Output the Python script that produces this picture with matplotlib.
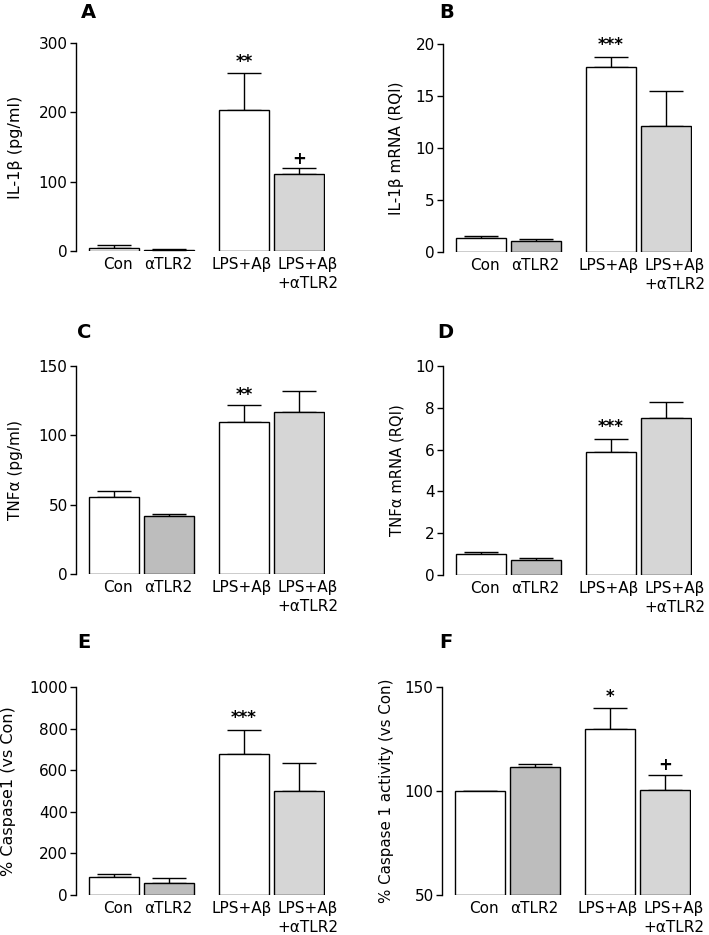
import matplotlib
matplotlib.use("Agg")
import matplotlib.pyplot as plt

plt.rcParams['font.family'] = ['DejaVu Sans']

categories = ["Con", "\u03b1TLR2", "LPS+A\u03b2", "LPS+A\u03b2\n+\u03b1TLR2"]
bar_colors = ["white", "#bdbdbd", "white", "#d6d6d6"]

# Panel A: IL-1beta (pg/ml)
il1b_pg_mean = [4, 2, 203, 111]
il1b_pg_err = [4, 1, 54, 9]
il1b_pg_sig = ["", "", "**", "+"]

# Panel B: IL-1beta mRNA (RQI)
il1b_mrna_mean = [1.3, 1.1, 17.8, 12.15]
il1b_mrna_err = [0.27, 0.15, 0.95, 3.3]
il1b_mrna_sig = ["", "", "***", ""]

# Panel C: TNFalpha (pg/ml)
tnf_pg_mean = [55.6, 41.9, 109.8, 116.5]
tnf_pg_err = [4.3, 1.7, 11.9, 15.5]
tnf_pg_sig = ["", "", "**", ""]

# Panel D: TNFalpha mRNA (RQI)
tnf_mrna_mean = [1.01, 0.74, 5.89, 7.5]
tnf_mrna_err = [0.11, 0.08, 0.61, 0.79]
tnf_mrna_sig = ["", "", "***", ""]

# Panel E: % Caspase1 (vs Con)
casp_mean = [85, 59, 678, 502]
casp_err = [17, 24, 117, 135]
casp_sig = ["", "", "***", ""]

# Panel F: % Caspase 1 activity (vs Con)
casp_act_mean = [100, 111.4, 129.7, 100.7]
casp_act_err = [0, 1.8, 10.2, 7.2]
casp_act_sig = ["", "", "*", "+"]

panels = [
    ("A", il1b_pg_mean, il1b_pg_err, il1b_pg_sig, "IL-1\u03b2 (pg/ml)", (0, 300), [0, 100, 200, 300]),
    ("B", il1b_mrna_mean, il1b_mrna_err, il1b_mrna_sig, "IL-1\u03b2 mRNA (RQI)", (0, 20), [0, 5, 10, 15, 20]),
    ("C", tnf_pg_mean, tnf_pg_err, tnf_pg_sig, "TNF\u03b1 (pg/ml)", (0, 150), [0, 50, 100, 150]),
    ("D", tnf_mrna_mean, tnf_mrna_err, tnf_mrna_sig, "TNF\u03b1 mRNA (RQI)", (0, 10), [0, 2, 4, 6, 8, 10]),
    ("E", casp_mean, casp_err, casp_sig, "% Caspase1 (vs Con)", (0, 1000), [0, 200, 400, 600, 800, 1000]),
    ("F", casp_act_mean, casp_act_err, casp_act_sig, "% Caspase 1 activity (vs Con)", (50, 150), [50, 100, 150]),
]

W, H = 709, 935
fig = plt.figure(figsize=(W / 100, H / 100), dpi=100)

# axes boxes in pixels: (left spine x, bottom y, top y)
boxes = [(76, 251, 43), (443, 252, 44), (76, 574, 366), (443, 575, 366), (76, 895, 687), (442, 895, 687)]
letter_pos = [(88, 12), (447, 12), (84, 333), (445, 333), (84, 643), (446, 643)]
ylabel_x = [16, 397, 16, 397, 9, 387]
ylabel_size = [11.5, 11, 11, 10.6, 11.5, 10.8]
sig_offset = {"*": 4, "**": 4, "***": 5, "+": 3}

xpos = [0, 1.1, 2.6, 3.7]
label_offsets = [0.08, 0.0, -0.05, 0.18]
axw = 249

for i, ((letter, mean, err, sig, ylabel, ylim, yticks), (lx, by, ty), (px, py)) in enumerate(zip(panels, boxes, letter_pos)):
    ax = fig.add_axes([lx / W, 1 - by / H, axw / W, (by - ty) / H])
    base = ylim[0]
    heights = [m - base for m in mean]
    ax.bar(xpos, heights, bottom=base, width=1.0, color=bar_colors, edgecolor="black", linewidth=1.0, zorder=2)
    ax.errorbar(xpos, mean, yerr=[[0] * len(err), err], fmt="none", ecolor="black",
                elinewidth=1.0, capsize=12, capthick=1.0, zorder=1)
    for x, m, e, s in zip(xpos, mean, err, sig):
        if s:
            ax.annotate(s, xy=(x, m + e), xytext=(0, sig_offset[s]),
                        textcoords="offset points", ha="center", va="baseline",
                        fontsize=12, fontweight="bold")
    ax.set_xlim(-0.75, 4.22)
    ax.set_ylim(*ylim)
    ax.set_yticks(yticks)
    ax.set_xticks([p + o for p, o in zip(xpos, label_offsets)])
    ax.set_xticklabels(categories, fontsize=11, linespacing=1.4)
    ax.tick_params(axis="x", length=0, pad=4)
    ax.tick_params(axis="y", length=4, width=1.0, labelsize=11, pad=2)
    for sp in ["top", "right", "bottom"]:
        ax.spines[sp].set_visible(False)
    ax.spines["left"].set_linewidth(1.0)
    ax.set_ylabel(ylabel, fontsize=ylabel_size[i], va="center")
    ax.yaxis.set_label_coords((ylabel_x[i] - lx) / axw, 0.5)
    fig.text(px / W, 1 - py / H, letter, fontsize=14, fontweight="bold", ha="center", va="center")

fig.savefig("out.png", dpi=100)
